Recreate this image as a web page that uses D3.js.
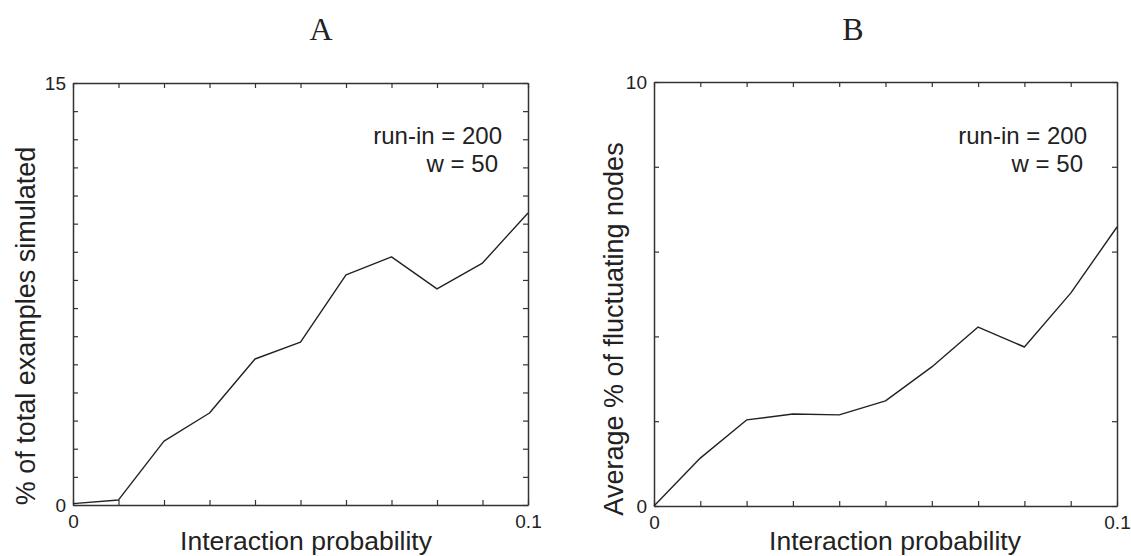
<!DOCTYPE html>
<html>
<head>
<meta charset="utf-8">
<script src="https://cdn.jsdelivr.net/npm/d3@7"></script>
<style>
  body { margin: 0; background: #fff; }
  svg text { font-family: "Liberation Sans", Arial, Helvetica, sans-serif; fill: #222; }
  .title { font-family: "Liberation Serif", "Times New Roman", serif; }
</style>
</head>
<body>
<svg id="chart" width="1131" height="556"></svg>
<script>
// interaction probability (shared x values)
const probs = [0, 0.01, 0.02, 0.03, 0.04, 0.05, 0.06, 0.07, 0.08, 0.09, 0.1];

// panel A: % of total examples simulated
const simulatedPct = [0.05, 0.18, 2.27, 3.27, 5.19, 5.79, 8.18, 8.82, 7.68, 8.6, 10.38];
// panel B: average % of fluctuating nodes
const fluctuatingPct = [0, 1.13, 2.03, 2.17, 2.15, 2.48, 3.28, 4.22, 3.75, 5.02, 6.58];

const yTicksA = [0, 1, 2, 3, 4, 5, 6, 7, 8, 9, 10, 11, 12, 13, 14, 15];
const yTicksB = [0, 2, 4, 6, 8, 10];

const panels = [
  { title: "A", ylabel: "% of total examples simulated", values: simulatedPct, yTicks: yTicksA,
    left: 73, right: 528, top: 83, bottom: 505, titleX: 321, xlabX: 306, ylabX: 35, ylabY: 326,
    noteX: 502 },
  { title: "B", ylabel: "Average % of fluctuating nodes", values: fluctuatingPct, yTicks: yTicksB,
    left: 654, right: 1117, top: 82, bottom: 506, titleX: 853, xlabX: 895, ylabX: 623, ylabY: 329,
    noteX: 1087 }
];

const svg = d3.select("#chart");

panels.forEach(p => {
  const w = p.right - p.left, h = p.bottom - p.top;
  const yMax = p.yTicks[p.yTicks.length - 1];

  const x = d3.scaleLinear().domain([0, 0.1]).range([0, w]);
  const y = d3.scaleLinear().domain([0, yMax]).range([h, 0]);

  const g = svg.append("g").attr("transform", `translate(${p.left},${p.top})`);

  const xFmt = d => (d === 0 ? "0" : d === 0.1 ? "0.1" : "");
  const yFmt = d => (d === 0 || d === yMax ? String(d) : "");

  const styleAxis = sel => {
    sel.attr("font-family", null).attr("font-size", null);
    sel.selectAll(".domain").attr("stroke", "#333").attr("stroke-width", 1.5);
    sel.selectAll(".tick line").attr("stroke", "#333").attr("stroke-width", 1.2);
    sel.selectAll("text").style("font-size", "19px").attr("fill", "#222");
  };

  g.append("g").attr("transform", `translate(0,${h})`)
    .call(d3.axisBottom(x).tickValues(probs).tickFormat(xFmt).tickSizeInner(-5).tickSizeOuter(0).tickPadding(10))
    .call(styleAxis);
  g.append("g")
    .call(d3.axisTop(x).tickValues(probs).tickFormat("").tickSizeInner(-5).tickSizeOuter(0))
    .call(styleAxis);
  g.append("g")
    .call(d3.axisLeft(y).tickValues(p.yTicks).tickFormat(yFmt).tickSizeInner(-5).tickSizeOuter(0).tickPadding(7))
    .call(styleAxis);
  g.append("g").attr("transform", `translate(${w},0)`)
    .call(d3.axisRight(y).tickValues(p.yTicks).tickFormat("").tickSizeInner(-5).tickSizeOuter(0))
    .call(styleAxis);

  const line = d3.line().x((d, i) => x(probs[i])).y(d => y(d));
  g.append("path")
    .datum(p.values)
    .attr("fill", "none")
    .attr("stroke", "#222")
    .attr("stroke-width", 1.4)
    .attr("stroke-linejoin", "round")
    .attr("d", line);

  // annotation lines
  svg.append("text").attr("x", p.noteX).attr("y", 144)
    .attr("text-anchor", "end").style("font-size", "24px").text("run-in = 200");
  svg.append("text").attr("x", p.noteX - 4).attr("y", 172)
    .attr("text-anchor", "end").style("font-size", "24px").text("w = 50");

  // titles and axis labels
  svg.append("text").attr("class", "title").attr("x", p.titleX).attr("y", 40)
    .attr("text-anchor", "middle").style("font-size", "32px").text(p.title);
  svg.append("text").attr("x", p.xlabX).attr("y", 550)
    .attr("text-anchor", "middle").style("font-size", "26.5px").text("Interaction probability");
  svg.append("text")
    .attr("transform", `translate(${p.ylabX},${p.ylabY}) rotate(-90)`)
    .attr("text-anchor", "middle").style("font-size", "27px").text(p.ylabel);
});
</script>
</body>
</html>
